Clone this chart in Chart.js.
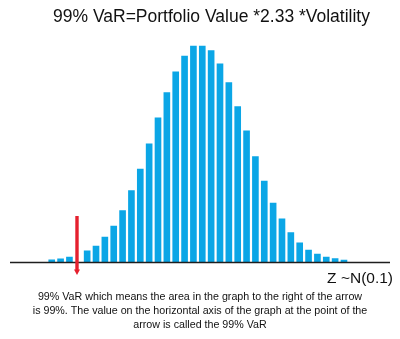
<!DOCTYPE html>
<html>
<head>
<meta charset="utf-8">
<script src="https://cdn.jsdelivr.net/npm/chart.js@4/dist/chart.umd.min.js"></script>
<style>
    html, body { margin: 0; padding: 0; background: #fff; }
    #wrap { width: 400px; height: 339px; position: relative; }
</style>
</head>
<body>
<div id="wrap"><canvas id="varChart" width="400" height="339"></canvas></div>
<script>
// Histogram of the standard normal, one bar per bin (null = slot taken by the VaR arrow)
const bins = ['b1', 'b2', 'b3', 'var', 'b4', 'b5', 'b6', 'b7', 'b8', 'b9', 'b10', 'b11',
    'b12', 'b13', 'b14', 'b15', 'b16', 'b17', 'b18', 'b19', 'b20', 'b21', 'b22', 'b23',
    'b24', 'b25', 'b26', 'b27', 'b28', 'b29', 'b30', 'b31', 'b32', 'b33'];
const freq = [2.5, 3.5, 5.2, null, 11.5, 16.2, 25.2, 36.2, 51.8, 71.8, 93.2, 118.5,
    144.5, 169.8, 190.5, 206.2, 216.2, 216.2, 211.8, 198.5, 179.8, 155.8, 131.5, 105.8,
    81.2, 59.2, 43.5, 29.8, 19.5, 12.2, 8.2, 5.2, 3.8, 2.2];
const varBin = 'var';

const titleText = '99% VaR=Portfolio Value *2.33 *Volatility';
const axisText = 'Z ~N(0.1)';
const noteLines = [
    '99% VaR which means the area in the graph to the right of the arrow',
    'is 99%. The value on the horizontal axis of the graph at the point of the',
    'arrow is called the 99% VaR'
];

const FONT = '"Liberation Sans", Arial, Helvetica, sans-serif';

// axis line, VaR arrow and all the text
const decorPlugin = {
    id: 'decor',
    afterDatasetsDraw(chart) {
        const ctx = chart.ctx;
        const xs = chart.scales.x;
        const ys = chart.scales.y;
        const base = ys.getPixelForValue(0);

        ctx.save();
        // horizontal axis
        ctx.strokeStyle = '#1e1e1e';
        ctx.lineWidth = 1.4;
        ctx.beginPath();
        ctx.moveTo(10, base + 0.5);
        ctx.lineTo(390, base + 0.5);
        ctx.stroke();

        // red arrow at the VaR point
        const ax = xs.getPixelForValue(xs.getLabels().indexOf(varBin)) - 1.3;
        const top = ys.getPixelForValue(46);
        const tip = base + 13;
        ctx.fillStyle = '#e5202e';
        ctx.fillRect(ax - 1.7, top, 3.4, tip - top - 5);
        ctx.beginPath();
        ctx.moveTo(ax - 3, tip - 5.5);
        ctx.lineTo(ax + 3, tip - 5.5);
        ctx.lineTo(ax, tip);
        ctx.closePath();
        ctx.fill();

        ctx.fillStyle = '#111';
        ctx.textAlign = 'center';
        ctx.textBaseline = 'alphabetic';
        ctx.font = '17.5px ' + FONT;
        ctx.fillText(titleText, 211.5, 22);

        ctx.textAlign = 'right';
        ctx.font = '15.5px ' + FONT;
        ctx.fillText(axisText, 393, 283);

        ctx.textAlign = 'center';
        ctx.font = '10.7px ' + FONT;
        noteLines.forEach(function(line, i) {
            ctx.fillText(line, 200, 299.5 + i * 14.3);
        });
        ctx.restore();
    }
};

new Chart(document.getElementById('varChart'), {
    type: 'bar',
    data: {
        labels: bins,
        datasets: [{
            data: freq,
            backgroundColor: '#0ba6e6',
            borderWidth: 0,
            barPercentage: 0.75,
            categoryPercentage: 1.0
        }]
    },
    options: {
        responsive: false,
        animation: false,
        layout: {
            padding: { left: 47.3, right: 51.6, top: 42, bottom: 77 }
        },
        scales: {
            x: { display: false },
            y: { display: false, min: 0, max: 220 }
        },
        plugins: {
            legend: { display: false },
            tooltip: { enabled: false }
        }
    },
    plugins: [decorPlugin]
});
</script>
</body>
</html>
